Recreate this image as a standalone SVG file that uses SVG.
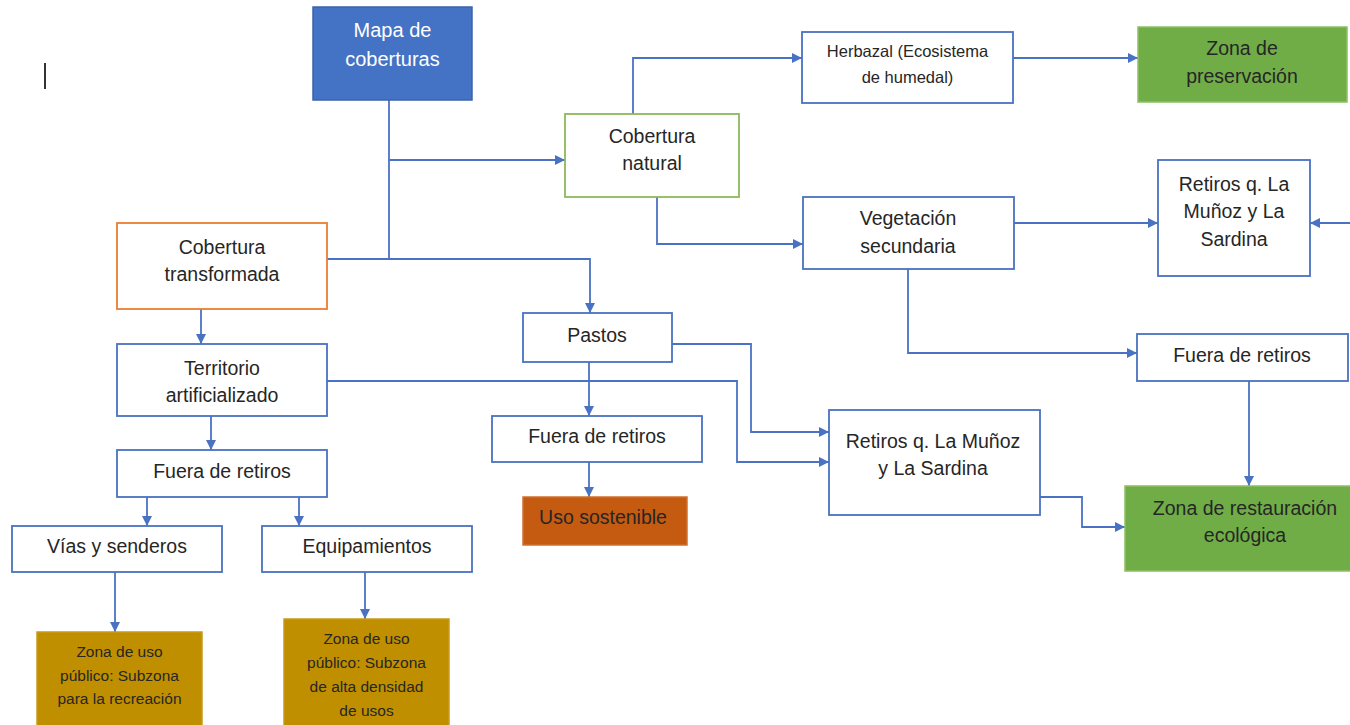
<svg xmlns="http://www.w3.org/2000/svg" width="1350" height="725" viewBox="0 0 1350 725">
<style>
.box{fill:#fff;stroke:#4a72c0;stroke-width:1.8}
.t{font-family:"Liberation Sans",Arial,sans-serif;font-size:19.5px;fill:#262626;text-anchor:middle}
.s{font-size:16.5px}
.xs{font-size:15.5px}
.w{fill:#fff;font-size:20px}
.c{fill:none;stroke:#4a72c4;stroke-width:1.8}
</style>
<defs>
<marker id="ah" viewBox="0 0 10 10" refX="10" refY="5" markerWidth="10" markerHeight="10" markerUnits="userSpaceOnUse" orient="auto">
<path d="M0,0 L10,5 L0,10 z" fill="#4a72c4"/>
</marker>
</defs>
<rect width="1350" height="725" fill="#fff"/>
<line x1="45" y1="63" x2="45" y2="89" stroke="#000" stroke-width="1.6"/>
<g id="connectors">
<path class="c" d="M389,100 V259"/>
<path class="c" d="M389,160 H565" marker-end="url(#ah)"/>
<path class="c" d="M327,259 H590 V313" marker-end="url(#ah)"/>
<path class="c" d="M633,114 V58 H802" marker-end="url(#ah)"/>
<path class="c" d="M1013,58 H1138" marker-end="url(#ah)"/>
<path class="c" d="M657,197 V244 H803" marker-end="url(#ah)"/>
<path class="c" d="M1014,223 H1158" marker-end="url(#ah)"/>
<path class="c" d="M1350,223 H1310" marker-end="url(#ah)"/>
<path class="c" d="M908,269 V353 H1137" marker-end="url(#ah)"/>
<path class="c" d="M1249,381 V486" marker-end="url(#ah)"/>
<path class="c" d="M1040,497 H1082 V527 H1125" marker-end="url(#ah)"/>
<path class="c" d="M672,344 H751 V432 H829" marker-end="url(#ah)"/>
<path class="c" d="M327,381 H737 V462 H829" marker-end="url(#ah)"/>
<path class="c" d="M589,362 V416" marker-end="url(#ah)"/>
<path class="c" d="M589,462 V497" marker-end="url(#ah)"/>
<path class="c" d="M201,309 V344" marker-end="url(#ah)"/>
<path class="c" d="M211,416 V450" marker-end="url(#ah)"/>
<path class="c" d="M147,497 V526" marker-end="url(#ah)"/>
<path class="c" d="M299,497 V526" marker-end="url(#ah)"/>
<path class="c" d="M115,572 V632" marker-end="url(#ah)"/>
<path class="c" d="M365,572 V619" marker-end="url(#ah)"/>
</g>
<g id="mapa">
<rect x="313" y="7" width="159" height="93" fill="#4472c4" stroke="#3a63ad" stroke-width="1.5"/>
<text class="t w" x="392.5" y="37">Mapa de</text>
<text class="t w" x="392.5" y="66">coberturas</text>
</g>
<g id="cob_transf">
<rect x="117" y="223" width="210" height="86" fill="#fff" stroke="#ed7d31" stroke-width="1.8"/>
<text class="t" x="222" y="253.5">Cobertura</text>
<text class="t" x="222" y="280.5">transformada</text>
</g>
<g id="cob_nat">
<rect x="565" y="114" width="174" height="83" fill="#fff" stroke="#8db85a" stroke-width="1.8"/>
<text class="t" x="652" y="142.5">Cobertura</text>
<text class="t" x="652" y="169.5">natural</text>
</g>
<g id="herbazal">
<rect class="box" x="802" y="32" width="211" height="71"/>
<text class="t s" x="907.5" y="57">Herbazal (Ecosistema</text>
<text class="t s" x="907.5" y="83">de humedal)</text>
</g>
<g id="zona_pres">
<rect x="1138" y="27" width="209" height="75" fill="#70ad47" stroke="#8cc063" stroke-width="1.5"/>
<text class="t" x="1242" y="54.5">Zona de</text>
<text class="t" x="1242" y="82.5">preservación</text>
</g>
<g id="veg_sec">
<rect class="box" x="803" y="197" width="211" height="72"/>
<text class="t" x="908" y="224.5">Vegetación</text>
<text class="t" x="908" y="252.5">secundaria</text>
</g>
<g id="retiros_r">
<rect class="box" x="1158" y="160" width="152" height="116"/>
<text class="t" x="1234" y="190.5">Retiros q. La</text>
<text class="t" x="1234" y="217.5">Muñoz y La</text>
<text class="t" x="1234" y="245.5">Sardina</text>
</g>
<g id="fuera_r">
<rect class="box" x="1137" y="334" width="211" height="47"/>
<text class="t" x="1242" y="361.5">Fuera de retiros</text>
</g>
<g id="zona_rest">
<rect x="1125" y="486" width="227" height="85" fill="#70ad47" stroke="#8cc063" stroke-width="1.5"/>
<text class="t" x="1245" y="514.5">Zona de restauración</text>
<text class="t" x="1245" y="541.5">ecológica</text>
</g>
<g id="retiros_m">
<rect class="box" x="829" y="410" width="211" height="105"/>
<text class="t" x="933" y="447.5">Retiros q. La Muñoz</text>
<text class="t" x="933" y="474.5">y La Sardina</text>
</g>
<g id="pastos">
<rect class="box" x="523" y="313" width="149" height="49"/>
<text class="t" x="597" y="341.5">Pastos</text>
</g>
<g id="fuera_m">
<rect class="box" x="492" y="416" width="210" height="46"/>
<text class="t" x="597" y="442.5">Fuera de retiros</text>
</g>
<g id="uso_sost">
<rect x="523" y="497" width="164" height="48" fill="#c55a11" stroke="#d0702e" stroke-width="1.5"/>
<text class="t" x="603" y="523.5">Uso sostenible</text>
</g>
<g id="territorio">
<rect class="box" x="117" y="344" width="210" height="72"/>
<text class="t" x="222" y="374.5">Territorio</text>
<text class="t" x="222" y="401.5">artificializado</text>
</g>
<g id="fuera_l">
<rect class="box" x="117" y="450" width="210" height="47"/>
<text class="t" x="222" y="477.5">Fuera de retiros</text>
</g>
<g id="vias">
<rect class="box" x="12" y="526" width="210" height="46"/>
<text class="t" x="117" y="552.5">Vías y senderos</text>
</g>
<g id="equip">
<rect class="box" x="262" y="526" width="210" height="46"/>
<text class="t" x="367" y="552.5">Equipamientos</text>
</g>
<g id="zona_rec">
<rect x="37" y="632" width="165" height="100" fill="#bf8f00" stroke="#c99a1a" stroke-width="1.5"/>
<text class="t xs" x="119.5" y="657">Zona de uso</text>
<text class="t xs" x="119.5" y="681">público: Subzona</text>
<text class="t xs" x="119.5" y="704">para la recreación</text>
</g>
<g id="zona_alta">
<rect x="284" y="619" width="165" height="112" fill="#bf8f00" stroke="#c99a1a" stroke-width="1.5"/>
<text class="t xs" x="366.5" y="644">Zona de uso</text>
<text class="t xs" x="366.5" y="668">público: Subzona</text>
<text class="t xs" x="366.5" y="692">de alta densidad</text>
<text class="t xs" x="366.5" y="716">de usos</text>
</g>
</svg>
